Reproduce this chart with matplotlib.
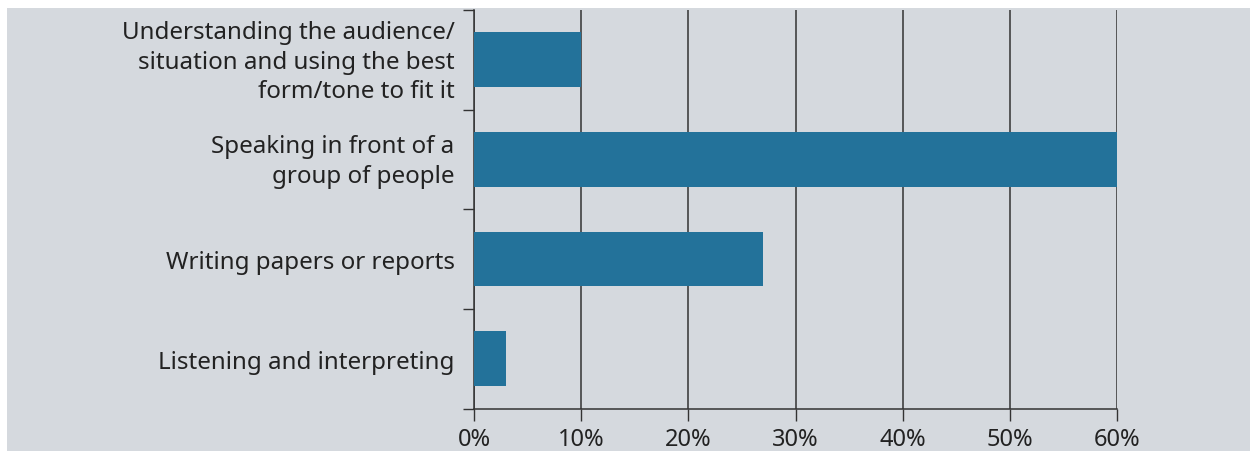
import numpy as np
import matplotlib.pyplot as plt
from matplotlib.patches import Rectangle
from matplotlib.transforms import ScaledTranslation

categories = [
    "Understanding the audience/\nsituation and using the best\nform/tone to fit it",
    "Speaking in front of a\ngroup of people",
    "Writing papers or reports",
    "Listening and interpreting",
]
values = [10, 60, 27, 3]
x_ticks = [0, 10, 20, 30, 40, 50, 60]
x_labels = [f"{t}%" for t in x_ticks]

BG = "#d5d9de"
BAR = "#23729a"
INK = "#333333"

plt.rcParams["font.family"] = ["Noto Sans", "DejaVu Sans"]


def main():
    fig = plt.figure(figsize=(12.5, 4.52), dpi=100)
    fig.patch.set_facecolor("white")
    fig.patches.append(Rectangle((7 / 1250, 0), 1 - 7 / 1250, 443 / 452,
                                 transform=fig.transFigure, facecolor=BG,
                                 edgecolor="none", zorder=-10))

    ax = fig.add_axes([474 / 1250, 42.5 / 452, 643 / 1250, 398.5 / 452])
    ax.set_facecolor("none")
    ax.set_zorder(5)

    pos = np.arange(len(categories)) + 0.5
    ax.barh(pos, values, height=0.55, color=BAR, zorder=3)

    ax.set_xlim(0, 60)
    ax.set_ylim(len(categories), 0)

    ax.set_xticks(x_ticks)
    ax.set_xticklabels(x_labels, fontsize=17, color="#222222")
    ax.tick_params(axis="x", length=8.5, width=1, color=INK, pad=5)

    ax.set_yticks(pos)
    ax.set_yticklabels(categories, fontsize=17.4, color="#222222",
                       linespacing=1.3)
    ax.tick_params(axis="y", which="major", length=0, pad=14)
    ax.set_yticks(np.arange(len(categories) + 1), minor=True)
    ax.tick_params(axis="y", which="minor", length=8, width=1, color=INK)

    # multi-line labels sit a few pixels higher in the original
    shift = ScaledTranslation(0, 4 / 100, fig.dpi_scale_trans)
    for lab in ax.get_yticklabels():
        if "\n" in lab.get_text():
            lab.set_transform(lab.get_transform() + shift)

    ax.grid(axis="x", color=INK, linewidth=1.1, zorder=1)
    for side in ["top", "right"]:
        ax.spines[side].set_visible(False)
    for side in ["left", "bottom"]:
        ax.spines[side].set_color(INK)
        ax.spines[side].set_linewidth(1.1)
    ax.spines["bottom"].set_zorder(4)

    fig.savefig("out.png", dpi=100)


if __name__ == "__main__":
    main()
